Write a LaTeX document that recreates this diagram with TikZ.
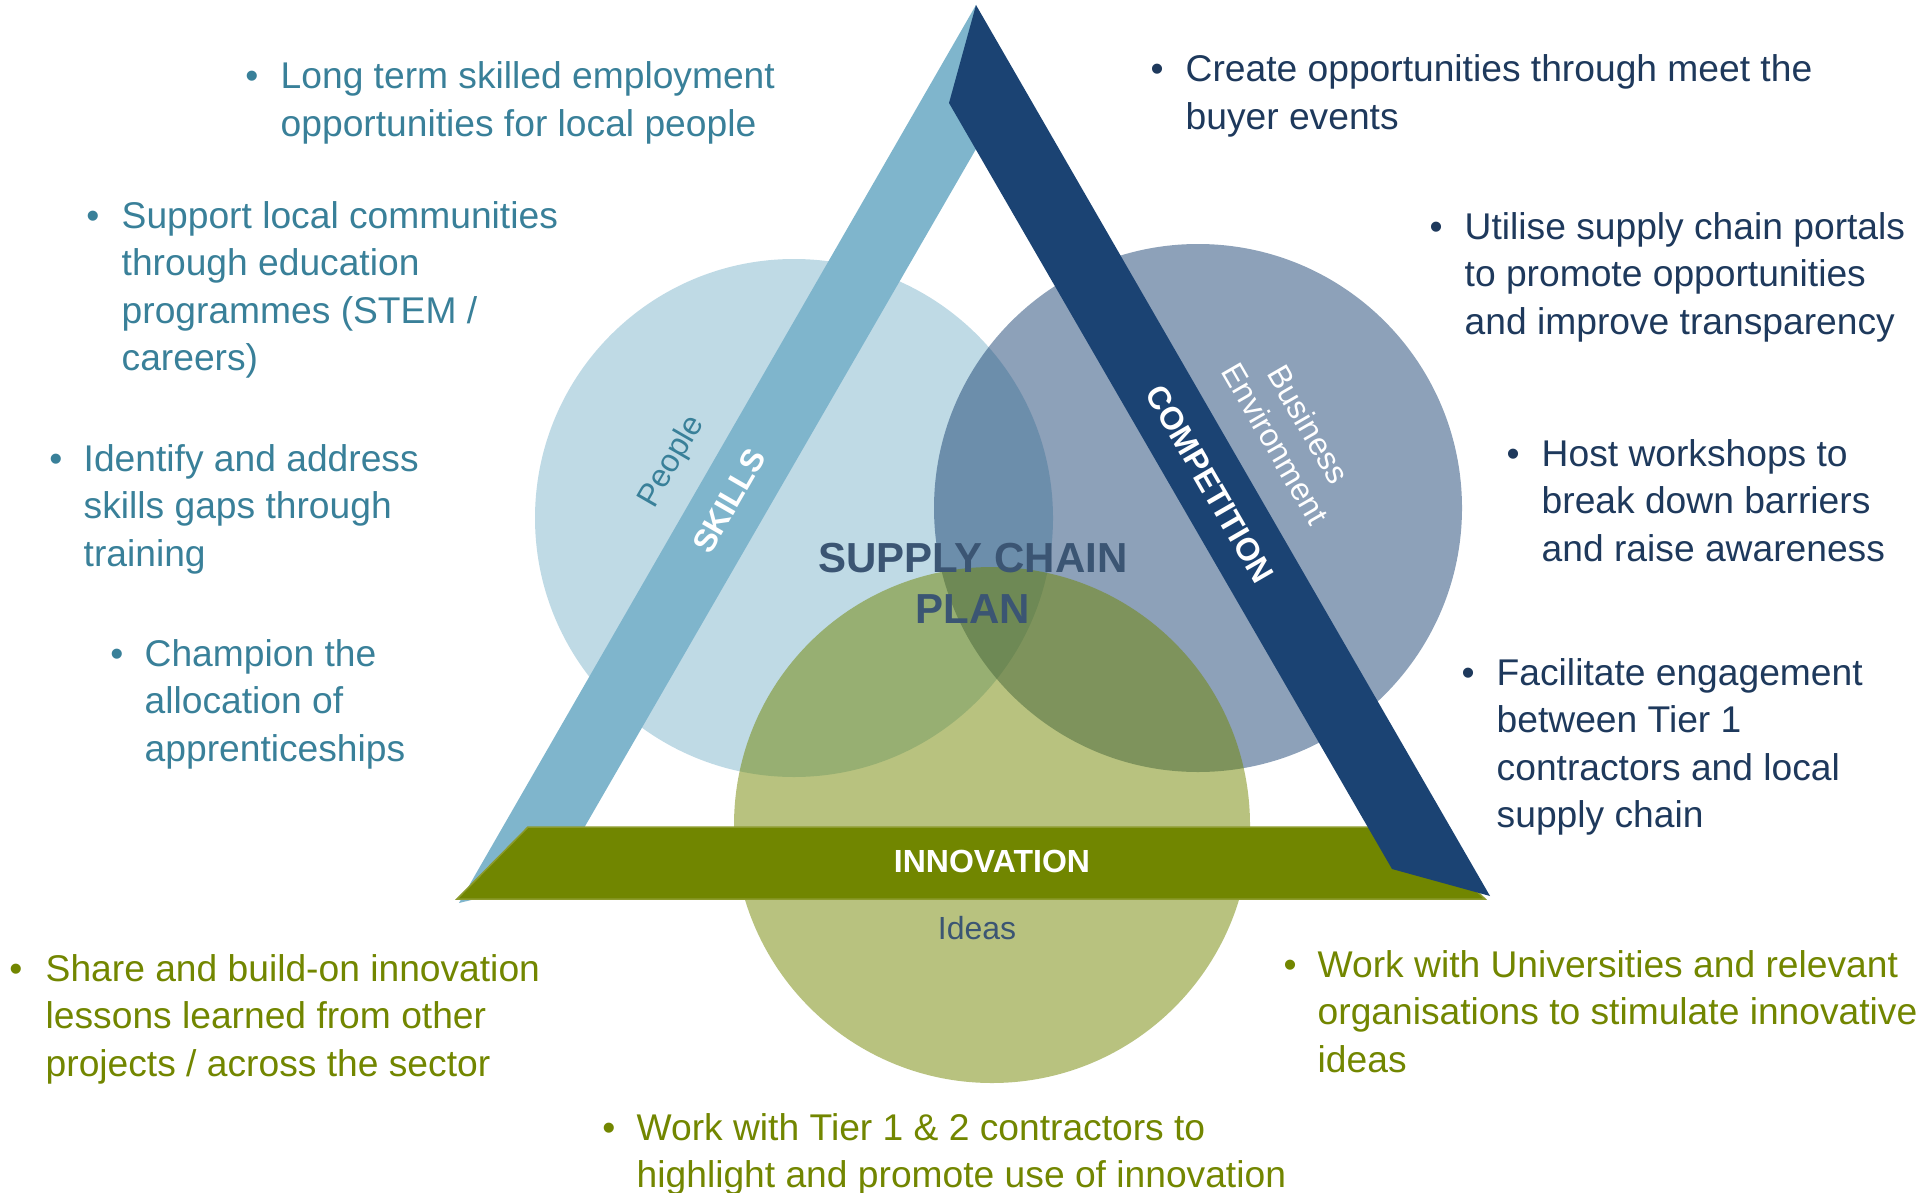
\documentclass[tikz,border=0pt]{standalone}
\usepackage{fontspec}
\setmainfont{Liberation Sans}
\definecolor{lightband}{RGB}{127,181,204}
\definecolor{darkband}{RGB}{27,67,115}
\definecolor{greenband}{RGB}{113,134,0}
\definecolor{greenedge}{RGB}{140,155,45}
\definecolor{tealtext}{RGB}{57,128,153}
\definecolor{navytext}{RGB}{30,57,92}
\definecolor{greentext}{RGB}{114,134,0}
\definecolor{slate}{RGB}{59,85,115}
\newcommand{\tl}[1]{\begin{tabular}[t]{@{}l@{}}#1\end{tabular}}
\tikzset{
  bodytxt/.style={inner sep=0pt, anchor=base west, font=\fontsize{37.2}{47.5}\selectfont},
  bullet/.style={inner sep=0pt, anchor=base, font=\fontsize{37.2}{47.5}\selectfont},
  bandlabel/.style={inner sep=0pt, text=white, font=\bfseries\fontsize{32}{38}\selectfont},
  softlabel/.style={inner sep=0pt, align=center, font=\fontsize{32}{38}\selectfont},
}
\begin{document}
\begin{tikzpicture}[x=1pt,y=-1pt]
\useasboundingbox (0,0) rectangle (1926,1193);
% circles
\fill[lightband, opacity=0.5] (794,518) circle[radius=259pt];
\fill[darkband, opacity=0.5] (1198,508) circle[radius=264pt];
\fill[greenband, opacity=0.5] (992,825) circle[radius=258pt];
% bands
\fill[lightband] (976,5) -- (459,903) -- (554,880) -- (976,149) -- cycle;
\fill[greenband, draw=greenedge, line width=1.5pt] (457,899) -- (528,827) -- (1410,827) -- (1485,899) -- cycle;
\fill[darkband] (976,5) -- (1490,896) -- (1392,869) -- (949,103) -- cycle;
% band labels
\node[bandlabel, rotate=60] (skills) at (729,501) {SKILLS};
\node[bandlabel, rotate=-60] (comp) at (1210,484) {COMPETITION};
\node[bandlabel] (innov) at (992,861) {INNOVATION};
\node[softlabel, text=tealtext, rotate=60] (people) at (672,462) {People};
\node[softlabel, text=white, rotate=-60] (busenv) at (1292,434) {Business\\Environment};
\node[softlabel, text=slate, anchor=base] (ideas) at (977,939) {Ideas};
\node[inner sep=0pt, align=center, text=slate, font=\bfseries\fontsize{42}{51}\selectfont] (scp) at (973,583) {SUPPLY CHAIN\\PLAN};
% left (skills) bullets
\node[bullet, text=tealtext] (bl1) at (252,89) {•};
\node[bodytxt, text=tealtext] (tl1) at (280.5,89) {\tl{Long term skilled employment\\opportunities for local people}};
\node[bullet, text=tealtext] (bl2) at (93,228) {•};
\node[bodytxt, text=tealtext] (tl2) at (121.5,228) {\tl{Support local communities\\through education\\programmes (STEM /\\careers)}};
\node[bullet, text=tealtext] (bl3) at (56,471) {•};
\node[bodytxt, text=tealtext] (tl3) at (83.5,471) {\tl{Identify and address\\skills gaps through\\training}};
\node[bullet, text=tealtext] (bl4) at (117,666) {•};
\node[bodytxt, text=tealtext] (tl4) at (144.5,666) {\tl{Champion the\\allocation of\\apprenticeships}};
% right (competition) bullets
\node[bullet, text=navytext] (br1) at (1157,82) {•};
\node[bodytxt, text=navytext] (tr1) at (1185.5,82) {\tl{Create opportunities through meet the\\buyer events}};
\node[bullet, text=navytext] (br2) at (1436,239) {•};
\node[bodytxt, text=navytext] (tr2) at (1464.5,239) {\tl{Utilise supply chain portals\\to promote opportunities\\and improve transparency}};
\node[bullet, text=navytext] (br3) at (1513,466) {•};
\node[bodytxt, text=navytext] (tr3) at (1541.5,466) {\tl{Host workshops to\\break down barriers\\and raise awareness}};
\node[bullet, text=navytext] (br4) at (1468,685) {•};
\node[bodytxt, text=navytext] (tr4) at (1496.5,685) {\tl{Facilitate engagement\\between Tier 1\\contractors and local\\supply chain}};
% green (innovation) bullets
\node[bullet, text=greentext] (bg1) at (16,981) {•};
\node[bodytxt, text=greentext] (tg1) at (45.5,981) {\tl{Share and build-on innovation\\lessons learned from other\\projects / across the sector}};
\node[bullet, text=greentext] (bg2) at (609,1140) {•};
\node[bodytxt, text=greentext] (tg2) at (636.5,1140) {\tl{Work with Tier 1 \& 2 contractors to\\highlight and promote use of innovation}};
\node[bullet, text=greentext] (bg3) at (1290,977) {•};
\node[bodytxt, text=greentext] (tg3) at (1317.5,977) {\tl{Work with Universities and relevant\\organisations to stimulate innovative\\ideas}};
\end{tikzpicture}
\end{document}
